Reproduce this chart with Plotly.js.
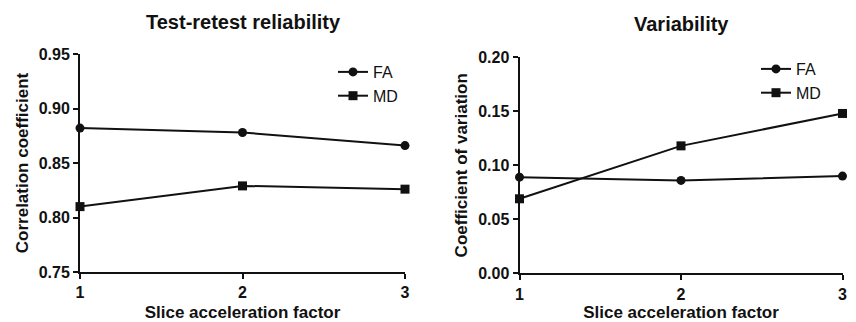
<!DOCTYPE html>
<html><head><meta charset="utf-8">
<script src="https://cdn.plot.ly/plotly-3.0.1.min.js"></script>
<style>html,body{margin:0;padding:0;background:#fff}#c{width:856px;height:322px}</style>
</head><body><div id="c"></div>
<script>
const factors = [1, 2, 3];
const reliabilityFA = [0.882, 0.878, 0.866];
const reliabilityMD = [0.810, 0.829, 0.826];
const variabilityFA = [0.089, 0.086, 0.090];
const variabilityMD = [0.069, 0.118, 0.148];
const leftTicks = [0.75, 0.80, 0.85, 0.90, 0.95];
const rightTicks = [0.00, 0.05, 0.10, 0.15, 0.20];

const FONT = 'Liberation Sans, Arial, sans-serif';
const lineStyle = {color: '#111', width: 2};
function tr(x, y, name, sym, xa, ya, lg, grp) {
  return {x: x, y: y, name: name, xaxis: xa, yaxis: ya, legend: lg, legendgroup: grp, mode: 'lines+markers',
    line: lineStyle, marker: {symbol: sym, size: 9, color: '#111'}, cliponaxis: false};
}
const data = [
  tr(factors, reliabilityFA, 'FA', 'circle', 'x', 'y', 'legend', 'a'),
  tr(factors, reliabilityMD, 'MD', 'square', 'x', 'y', 'legend', 'b'),
  tr(factors, variabilityFA, 'FA', 'circle', 'x2', 'y2', 'legend2', 'c'),
  tr(factors, variabilityMD, 'MD', 'square', 'x2', 'y2', 'legend2', 'd')
];
const tf = {family: FONT, size: 16, color: '#111', weight: 'bold'};
const af = {family: FONT, size: 17, color: '#111', weight: 'bold'};
function xax(dom, anchor) {
  return {domain: dom, anchor: anchor, range: [1, 3], tickvals: factors, ticktext: factors.map(String),
    showline: true, linecolor: '#111', linewidth: 2, ticks: 'outside', ticklen: 5, tickwidth: 2, tickcolor: '#111',
    showgrid: false, zeroline: false, tickfont: tf, ticklabelstandoff: 0,
    title: {text: 'Slice acceleration factor', font: af, standoff: 8}};
}
function yax(dom, anchor, ticks, title) {
  return {domain: dom, anchor: anchor, range: [ticks[0], ticks[ticks.length-1]], tickvals: ticks,
    ticktext: ticks.map(v => v.toFixed(2)),
    showline: true, linecolor: '#111', linewidth: 2, ticks: 'outside', ticklen: 5, tickwidth: 2, tickcolor: '#111',
    showgrid: false, zeroline: false, tickfont: tf,
    title: {text: title, font: af, standoff: 6}};
}
const legStyle = {font: {family: FONT, size: 16, color: '#111'}, traceorder: 'grouped',
  bgcolor: 'rgba(0,0,0,0)', xanchor: 'left', yanchor: 'top', itemwidth: 30, tracegroupgap: 0};
const layout = {
  width: 856, height: 322, margin: {l: 0, r: 0, t: 0, b: 0},
  paper_bgcolor: '#fff', plot_bgcolor: '#fff', showlegend: true,
  xaxis: xax([80/856, 405/856], 'y'),
  yaxis: yax([50/322, 268/322], 'x', leftTicks, 'Correlation coefficient'),
  xaxis2: xax([519.5/856, 842.5/856], 'y2'),
  yaxis2: yax([48.7/322, 264.7/322], 'x2', rightTicks, 'Coefficient of variation'),
  legend: Object.assign({x: 333/856, y: 1 - 55/322}, legStyle),
  legend2: Object.assign({x: 756/856, y: 1 - 52/322}, legStyle),
  annotations: [
    {text: 'Test-retest reliability', x: 243/856, y: 1 - 22/322, xref: 'paper', yref: 'paper', showarrow: false,
      xanchor: 'center', yanchor: 'middle', font: {family: FONT, size: 20, color: '#111', weight: 'bold'}},
    {text: 'Variability', x: 681/856, y: 1 - 24/322, xref: 'paper', yref: 'paper', showarrow: false,
      xanchor: 'center', yanchor: 'middle', font: {family: FONT, size: 20, color: '#111', weight: 'bold'}}
  ]
};
Plotly.newPlot('c', data, layout, {displayModeBar: false, staticPlot: true});
</script></body></html>
